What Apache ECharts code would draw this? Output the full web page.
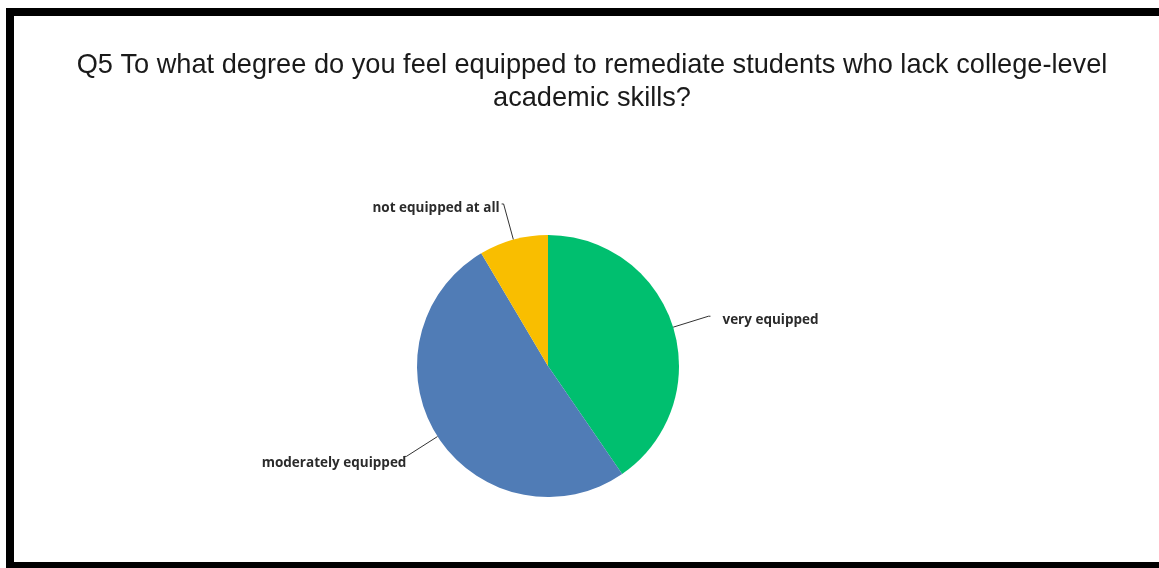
<!DOCTYPE html>
<html>
<head>
<meta charset="utf-8">
<script src="https://cdn.jsdelivr.net/npm/echarts@6/dist/echarts.min.js"></script>
<style>
  html, body { margin: 0; padding: 0; background: #fff; overflow: hidden; }
  #chart { position: absolute; left: 0; top: 0; width: 1159px; height: 568px; }
  #frame { position: absolute; left: 6px; top: 8px; width: 1170px; height: 546px;
           border: 8px solid #000; pointer-events: none; }
</style>
</head>
<body>
<div id="chart"></div>
<div id="frame"></div>
<script>
const titleText = 'Q5 To what degree do you feel equipped to remediate students who lack college-level\nacademic skills?';
const categories = ['very equipped', 'moderately equipped', 'not equipped at all'];
const values = [19, 24, 4];
const colors = ['#00BF6F', '#507CB6', '#F9BE00'];

const chart = echarts.init(document.getElementById('chart'), null, { renderer: 'canvas' });
chart.setOption({
  animation: false,
  backgroundColor: '#ffffff',
  title: {
    text: titleText,
    left: 587,
    top: 44,
    textAlign: 'center',
    textStyle: {
      fontFamily: '"Liberation Sans", Arial, sans-serif',
      fontSize: 27.2,
      fontWeight: 'normal',
      color: '#1a1a1a',
      lineHeight: 33
    }
  },
  series: [{
    type: 'pie',
    center: [548, 366],
    radius: 131,
    startAngle: 90,
    clockwise: true,
    data: categories.map((c, i) => ({
      name: c,
      value: values[i],
      itemStyle: { color: colors[i] }
    })),
    label: {
      show: true,
      position: 'outside',
      formatter: '{b}',
      fontFamily: '"Open Sans", sans-serif',
      fontWeight: 'bold',
      fontSize: 13.5,
      color: '#2b2b2b',
      distanceToLabelLine: 2
    },
    labelLayout: function (p) {
      if (p.dataIndex === 0) return { dx: 10, dy: 4 };
      if (p.dataIndex === 1) return { dx: 4, dy: 7 };
      return { dy: 4 };
    },
    labelLine: {
      show: true,
      length: 37,
      length2: 2,
      smooth: false,
      lineStyle: { color: '#333', width: 1 }
    },
    itemStyle: { borderWidth: 0 },
    emphasis: { disabled: true }
  }]
});
</script>
</body>
</html>
